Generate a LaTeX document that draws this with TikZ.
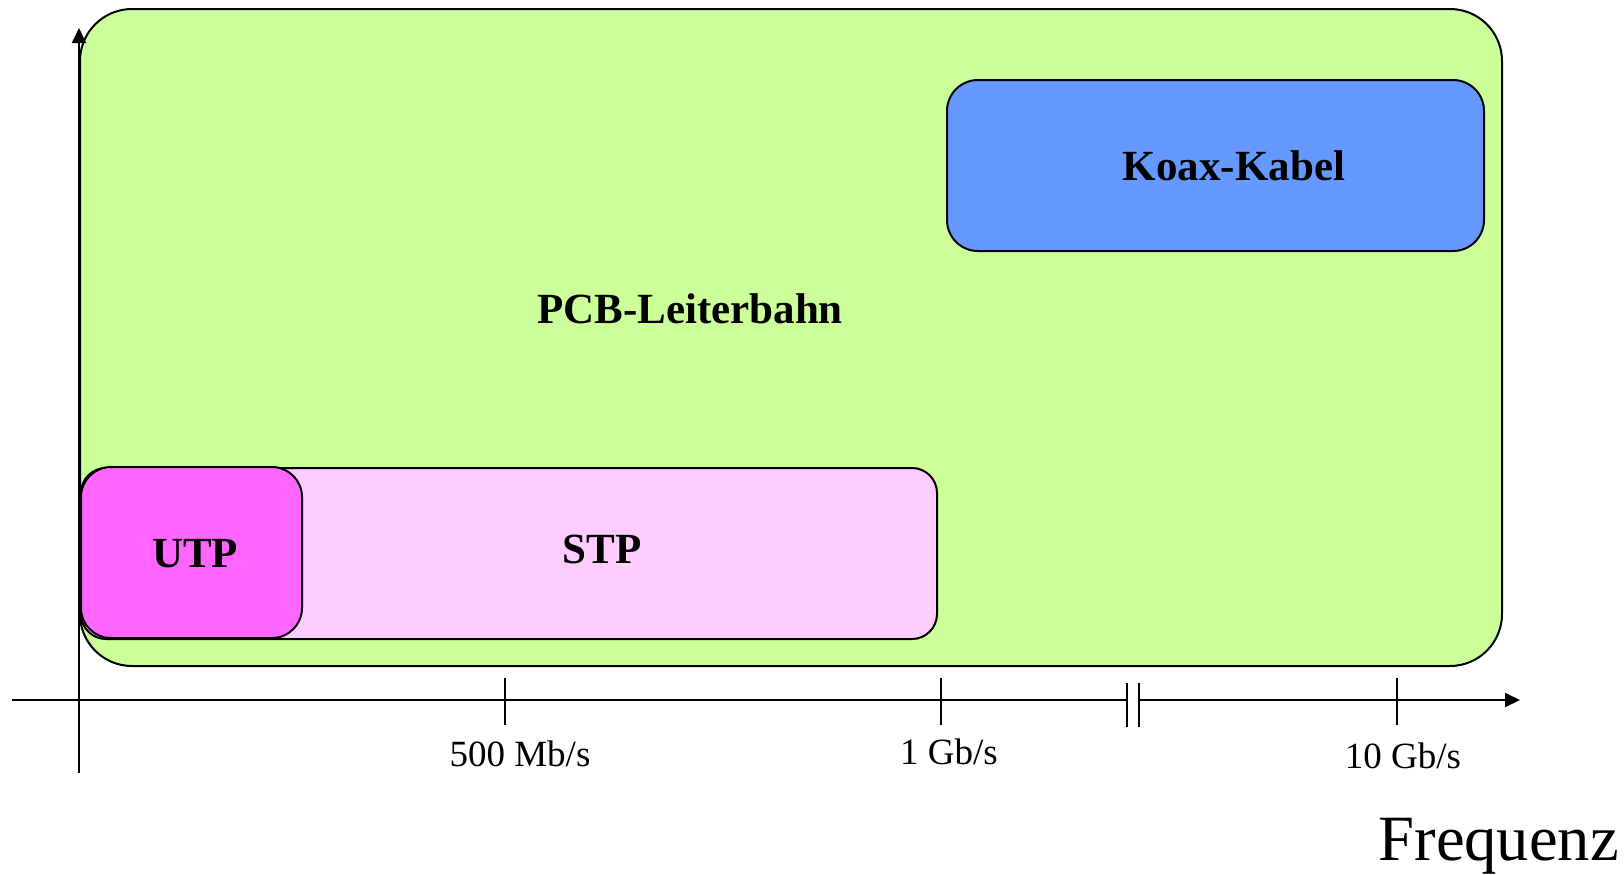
\documentclass[tikz,border=0pt]{standalone}
\usepackage{fontspec}
\setmainfont{Liberation Serif}
\usetikzlibrary{arrows.meta}
\definecolor{pcbgreen}{HTML}{CCFF99}
\definecolor{koaxblue}{HTML}{6699FF}
\definecolor{stppink}{HTML}{FFCCFF}
\definecolor{utpmagenta}{HTML}{FF66FF}
\tikzset{
  box/.style={draw,line width=1pt,rounded corners=#1,inner sep=0pt},
  lbl/.style={font=\bfseries\fontsize{21.5}{24}\selectfont},
  axline/.style={line width=1pt},
  ticklbl/.style={font=\fontsize{18.5}{21}\selectfont,anchor=base}
}

\begin{document}
\begin{tikzpicture}[x=0.5pt,y=-0.5pt]
	\useasboundingbox (0,0) rectangle (1624,874);
	% boxes
	\node[box=26pt,fill=pcbgreen,minimum width=711pt,minimum height=328.5pt] (pcb) at (791,337.5) {};
	\node[box=15.5pt,fill=koaxblue,minimum width=268.5pt,minimum height=85.5pt] (koax) at (1215.5,165.5) {};
	\node[box=12.5pt,fill=stppink,minimum width=428pt,minimum height=85.5pt] (stp) at (509,553.5) {};
	\node[box=15pt,fill=utpmagenta,minimum width=110.5pt,minimum height=85.5pt] (utp) at (191.5,552.5) {};
	\node[lbl] (pcblbl) at (690,309) {PCB-Leiterbahn};
	\node[lbl] (koaxlbl) at (1234,166) {Koax-Kabel};
	\node[lbl] (stplbl) at (602,549) {STP};
	\node[lbl] (utplbl) at (195,554) {UTP};
	% axes
	\coordinate (ybot) at (79,773);
	\coordinate (ytop) at (79,28);
	\coordinate (xleft) at (12,700);
	\coordinate (brka) at (1127,700);
	\coordinate (brkb) at (1139,700);
	\coordinate (xright) at (1520,700);
	\draw[axline,-{Triangle[length=7.5pt,width=7pt]}] (ybot) -- (ytop);
	\draw[axline] (xleft) -- (brka);
	\draw[axline,-{Triangle[length=7.5pt,width=7pt]}] (brkb) -- (xright);
	\draw[axline] (brka) ++(0,-17) -- ++(0,44);
	\draw[axline] (brkb) ++(0,-17) -- ++(0,44);
	% ticks
	\coordinate (t500) at (505,700);
	\coordinate (t1g) at (941,700);
	\coordinate (t10g) at (1397,700);
	\draw[axline] (t500) ++(0,-22) -- ++(0,47);
	\draw[axline] (t1g) ++(0,-22) -- ++(0,47);
	\draw[axline] (t10g) ++(0,-22) -- ++(0,47);
	\node[ticklbl] (l500) at (520,766) {500 Mb/s};
	\node[ticklbl] (l1g) at (949,764) {1 Gb/s};
	\node[ticklbl] (l10g) at (1403,768) {10 Gb/s};
	\node[font=\fontsize{32.3}{35}\selectfont,anchor=base east] (freq) at (1626,860) {Frequenz};
\end{tikzpicture}
\end{document}
